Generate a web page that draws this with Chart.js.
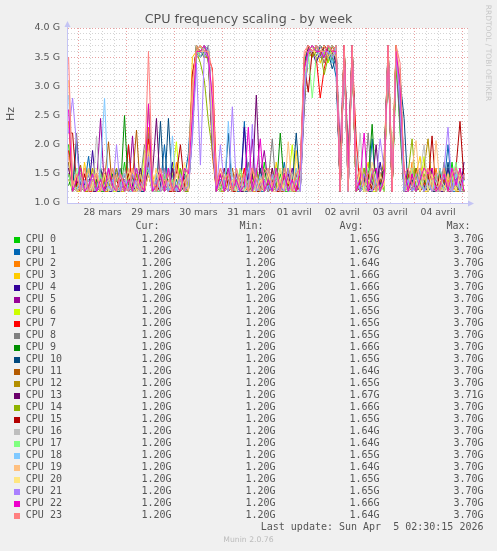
<!DOCTYPE html>
<html><head><meta charset="utf-8">
<script src="https://cdn.jsdelivr.net/npm/chart.js@4.4.1/dist/chart.umd.min.js"></script>
<style>
html,body{margin:0;padding:0;background:#f0f0f0;}
#wrap{position:relative;width:497px;height:551px;overflow:hidden;background:#f0f0f0;font-family:'DejaVu Sans',sans-serif;color:#555;}
#chartBox{position:absolute;left:0;top:0;width:497px;height:230px;}
.t{position:absolute;white-space:pre;}
.mono{font-family:'DejaVu Sans Mono',monospace;font-size:10px;line-height:12px;color:#555;}
.sq{position:absolute;width:6px;height:6px;}
</style></head>
<body>
<div id="wrap">
  <div id="chartBox"><canvas id="c" width="497" height="230"></canvas></div>
  <div class="t" id="title" style="left:0;width:497px;top:11px;text-align:center;font-size:12.7px;line-height:15px;color:#555;">CPU frequency scaling - by week</div>
  <div class="t" style="left:-9px;width:40px;top:107px;text-align:center;font-size:11px;line-height:14px;transform:rotate(-90deg);color:#555;">Hz</div>
  <div class="t" style="left:437px;width:102px;top:48px;text-align:center;font-size:7.5px;line-height:10px;transform:rotate(90deg);color:#c8c8c8;">RRDTOOL / TOBI OETIKER</div>
  <div id="legend"></div>
  <div class="t" style="left:0;width:497px;top:535px;text-align:center;font-size:7.7px;line-height:10px;color:#bbb;">Munin 2.0.76</div>
</div>
<script>
// ---- data (GHz), one point every 2 hours, first point 27 mars 19:00 ----
const startHour = -5;   // hours relative to 28 mars 00:00
const stepHours = 2;
const dayLabels = ['28 mars','29 mars','30 mars','31 mars','01 avril','02 avril','03 avril','04 avril'];
const cpuNames = ['CPU 0','CPU 1','CPU 2','CPU 3','CPU 4','CPU 5','CPU 6','CPU 7','CPU 8','CPU 9','CPU 10','CPU 11','CPU 12','CPU 13','CPU 14','CPU 15','CPU 16','CPU 17','CPU 18','CPU 19','CPU 20','CPU 21','CPU 22','CPU 23'];
const cpuColors = ['#00CC00','#0066B3','#FF8000','#FFCC00','#330099','#990099','#CCFF00','#FF0000','#808080','#008F00','#00487D','#B35A00','#B38F00','#6B006B','#8FB300','#B30000','#BEBEBE','#80FF80','#80C9FF','#FFC080','#FFE680','#AA80FF','#EE00CC','#FF8080'];
const curValues = ['1.20G','1.20G','1.20G','1.20G','1.20G','1.20G','1.20G','1.20G','1.20G','1.20G','1.20G','1.20G','1.20G','1.20G','1.20G','1.20G','1.20G','1.20G','1.20G','1.20G','1.20G','1.20G','1.20G','1.20G'];
const minValues = ['1.20G','1.20G','1.20G','1.20G','1.20G','1.20G','1.20G','1.20G','1.20G','1.20G','1.20G','1.20G','1.20G','1.20G','1.20G','1.20G','1.20G','1.20G','1.20G','1.20G','1.20G','1.20G','1.20G','1.20G'];
const avgValues = ['1.65G','1.67G','1.64G','1.66G','1.66G','1.65G','1.65G','1.65G','1.65G','1.66G','1.65G','1.64G','1.65G','1.67G','1.66G','1.65G','1.64G','1.64G','1.65G','1.64G','1.65G','1.65G','1.66G','1.64G'];
const maxValues = ['3.70G','3.70G','3.70G','3.70G','3.70G','3.70G','3.70G','3.70G','3.70G','3.70G','3.70G','3.70G','3.70G','3.71G','3.70G','3.70G','3.70G','3.70G','3.70G','3.70G','3.70G','3.70G','3.70G','3.70G'];
const lastUpdate = 'Last update: Sun Apr  5 02:30:15 2026';

const cpu0 = [
2.0,1.3,1.2,1.6,1.2,1.2,1.5,1.2,1.3,1.2,
1.2,1.4,1.2,1.2,1.7,1.2,1.3,1.2,1.5,1.2,
1.9,1.2,1.3,1.2,1.6,1.2,1.2,1.4,1.2,1.3,
1.2,2.6,3.6,3.7,3.6,3.5,2.0,1.2,1.4,1.2,
1.3,1.2,1.6,1.2,1.2,1.5,1.2,1.3,1.2,1.7,
1.2,1.3,1.2,1.5,1.2,1.2,1.4,1.2,1.6,3.2,
3.6,3.7,3.5,3.7,3.6,3.4,3.7,3.6,1.2,3.6,
1.3,3.7,1.2,1.5,1.2,1.3,1.2,1.6,1.2,1.4,
3.6,1.2,3.5,2.2,1.2,1.4,1.2,1.6,1.2,1.3,
1.2,1.5,1.2,1.2,1.4,1.2,1.7,1.2,1.3,1.2];
const cpu1 = [
1.7,1.2,1.4,1.2,1.3,1.8,1.2,1.2,1.5,1.2,
1.3,1.2,1.6,1.2,1.2,2.0,1.2,1.4,1.2,1.3,
2.2,1.4,1.2,1.3,2.0,1.2,1.5,1.2,1.2,1.4,
1.85,3.0,3.7,3.6,3.5,3.6,2.4,1.3,1.2,1.5,
1.2,1.4,1.2,1.2,2.4,1.3,1.2,1.6,1.2,1.2,
1.5,1.2,1.3,1.2,1.7,1.2,1.4,1.2,1.2,3.4,
3.7,3.6,3.6,3.5,3.7,3.6,3.5,3.15,1.3,3.7,
1.2,3.6,1.4,1.2,1.3,1.2,2.1,1.2,1.5,1.6,
3.7,1.3,3.6,2.6,1.2,1.5,1.2,1.3,1.2,1.6,
1.4,1.2,1.2,1.5,1.3,2.0,1.2,1.2,1.4,1.2];
const cpu2 = [
2.4,1.2,1.3,1.5,1.2,1.2,1.4,1.2,1.6,1.2,
1.2,1.5,1.2,1.3,1.2,1.6,1.2,1.2,1.4,1.2,
2.3,1.2,1.6,1.2,1.3,1.2,1.2,1.7,1.2,1.4,
1.3,2.8,3.6,3.5,3.7,3.4,1.8,1.2,1.3,1.6,
1.2,1.3,1.2,1.5,1.2,1.4,1.2,1.2,1.6,1.3,
1.2,1.6,1.2,1.2,1.5,1.2,1.3,1.2,1.4,3.0,
3.6,3.5,3.7,3.6,3.4,3.7,3.6,3.5,1.2,3.7,
1.4,3.7,1.2,1.3,1.6,1.2,1.2,1.5,1.3,1.8,
3.6,1.2,3.7,3.0,1.3,1.2,1.7,1.2,1.4,1.2,
1.3,1.2,1.6,1.2,1.2,1.4,1.2,1.5,1.2,1.3];
const cpu3 = [
1.6,1.4,1.2,1.2,1.7,1.2,1.3,1.5,1.2,1.4,
1.2,1.3,1.5,1.2,1.2,1.4,1.6,1.2,1.3,1.2,
1.7,1.5,1.2,1.4,1.2,1.6,1.2,1.3,1.5,1.2,
1.4,3.5,3.6,3.7,3.5,3.6,2.2,1.4,1.2,1.3,
1.5,1.2,1.4,1.2,1.6,1.2,1.3,1.2,1.5,1.2,
1.3,1.2,1.7,1.2,1.4,1.2,1.2,1.9,1.2,2.8,
3.5,3.6,3.7,3.4,3.6,3.7,3.5,3.6,1.4,3.6,
1.2,3.6,1.3,1.2,1.4,1.7,1.2,1.3,1.2,1.5,
3.7,1.4,3.6,2.8,1.2,1.3,1.2,1.5,1.8,1.2,
1.2,1.4,1.2,1.3,1.6,1.2,1.3,1.2,1.5,1.2];
const cpu4 = [
1.5,1.2,1.3,1.2,1.4,1.2,1.9,1.2,1.3,1.5,
1.2,1.2,1.4,1.6,1.2,1.3,1.2,1.5,1.2,1.2,
1.6,1.3,1.2,1.2,1.5,1.2,1.7,1.2,1.3,1.2,
1.2,2.2,3.5,3.6,3.7,3.6,2.1,1.2,1.5,1.2,
1.3,1.2,1.5,1.2,2.3,1.2,1.4,1.2,1.3,1.6,
1.2,1.4,1.2,1.3,1.2,1.6,1.2,1.5,1.2,2.6,
3.7,3.6,3.4,3.6,3.7,3.5,3.6,3.4,1.2,3.5,
1.5,3.7,1.2,1.4,1.2,1.2,1.5,1.2,1.7,1.3,
3.5,1.2,3.6,2.4,1.4,1.2,1.3,1.2,1.6,1.2,
1.5,1.2,1.3,1.2,1.2,1.6,1.2,1.4,1.2,1.7];
const cpu5 = [
1.8,1.3,1.2,1.4,1.2,1.5,1.2,1.3,2.45,1.2,
1.4,1.2,1.3,1.2,1.5,1.2,2.15,1.2,1.3,1.4,
2.0,1.2,1.4,1.6,1.2,1.3,1.2,1.2,1.5,1.2,
1.3,2.4,3.6,3.6,3.5,3.7,1.9,1.3,1.2,1.4,
1.2,1.5,1.3,1.2,1.2,1.4,2.1,1.2,1.5,1.9,
1.3,1.2,1.5,1.2,1.2,1.3,1.6,1.2,1.4,3.3,
3.6,3.7,3.6,3.5,3.5,3.6,3.7,3.6,1.9,3.6,
1.2,3.6,1.5,1.2,1.3,1.2,1.4,1.6,1.2,1.4,
3.6,1.3,3.5,2.5,1.2,1.2,1.5,1.3,1.2,1.4,
1.2,1.3,1.5,1.2,1.4,1.2,1.2,1.6,1.3,1.2];
const cpu6 = [
1.4,1.2,1.5,1.2,1.3,1.2,1.6,1.2,1.2,1.5,
1.3,1.2,1.2,1.5,1.2,1.4,1.2,1.3,1.2,1.9,
1.8,1.2,1.3,1.2,1.4,1.2,1.5,2.05,1.2,1.3,
1.2,2.9,3.7,3.5,3.6,3.6,2.5,1.2,1.4,1.2,
1.4,1.2,1.2,1.6,1.3,1.2,1.5,1.2,1.2,1.4,
1.2,1.5,1.2,1.4,1.2,1.3,2.0,1.2,1.5,3.1,
3.6,3.5,3.6,3.7,3.6,3.4,3.6,3.7,1.3,3.7,
1.3,3.7,1.2,1.6,1.2,1.4,1.2,1.2,1.5,1.3,
3.6,1.2,3.7,2.9,1.5,1.2,1.4,1.2,1.3,1.8,
1.2,1.5,1.2,1.3,1.2,1.4,1.6,1.2,1.2,1.5];
const cpu7 = [
1.9,1.2,1.3,1.2,1.5,1.2,1.2,1.4,1.3,1.2,
1.5,1.3,1.2,1.4,1.2,2.0,1.2,1.5,1.2,1.3,
2.1,1.3,1.2,1.5,1.2,1.4,1.2,1.3,1.2,1.6,
1.2,3.2,3.6,3.7,3.6,3.5,3.3,1.5,1.2,1.3,
1.2,1.3,1.4,1.2,1.6,1.2,1.2,1.5,1.3,1.2,
1.6,1.2,1.3,1.2,1.5,1.4,1.2,1.3,1.2,3.5,
3.7,3.6,3.5,2.8,3.3,3.6,3.7,3.5,1.2,3.6,
1.4,3.6,2.1,1.2,1.3,1.2,1.5,1.2,1.4,1.2,
3.7,1.2,3.6,2.7,1.3,1.5,1.2,1.4,1.2,1.3,
1.6,1.2,1.2,1.4,1.3,1.2,1.5,1.2,1.3,1.4];
const cpu8 = [
1.6,1.3,2.2,1.2,1.4,1.2,1.3,1.5,1.2,1.3,
1.2,1.4,1.2,1.6,1.2,1.3,1.2,1.2,1.4,2.0,
1.7,1.2,1.5,1.2,1.3,1.2,1.6,1.2,1.4,1.2,
1.5,2.5,3.5,3.6,3.7,3.4,2.3,1.2,1.3,1.5,
1.2,1.4,1.2,1.3,1.2,1.7,1.2,1.4,1.2,1.3,
1.4,2.1,1.2,1.3,1.6,1.2,1.2,1.4,1.3,2.9,
3.5,3.6,3.7,3.6,3.4,3.6,3.5,3.7,1.3,3.5,
1.2,3.5,1.3,1.4,1.2,2.2,1.3,1.2,1.6,1.5,
3.6,1.4,3.5,2.3,1.2,1.3,1.6,1.2,1.5,1.2,
1.3,1.2,1.4,1.2,1.7,1.2,1.3,1.5,1.2,1.2];
const cpu9 = [
1.3,1.5,1.2,1.3,1.2,1.6,1.2,1.4,1.2,1.2,
1.4,1.2,1.3,1.2,2.5,1.2,1.5,1.2,1.3,1.4,
1.5,1.2,1.2,1.4,1.2,1.5,1.3,1.2,1.6,1.2,
1.2,2.7,3.7,3.6,3.7,3.5,2.0,1.3,1.2,1.4,
1.6,1.2,1.3,1.2,1.4,1.2,1.5,1.2,1.2,1.6,
1.2,1.3,1.2,2.2,1.3,1.2,1.5,1.2,1.4,3.4,
3.6,3.7,3.6,3.6,3.5,3.7,3.4,3.6,1.2,3.7,
1.75,3.6,1.2,1.3,1.2,1.4,2.35,1.2,1.3,1.7,
3.6,1.2,3.25,3.3,1.4,1.2,1.3,1.5,1.2,1.4,
1.2,1.3,1.2,1.6,1.2,1.3,1.2,1.4,1.5,1.2];
const cpu10 = [
1.5,1.2,2.05,1.3,1.2,1.4,1.2,1.2,1.6,1.3,
1.2,1.5,1.2,1.2,1.4,1.2,1.3,1.6,1.2,1.2,
1.6,1.3,1.2,2.4,1.2,2.45,1.2,1.4,1.3,1.2,
1.6,2.3,3.6,3.5,3.6,3.7,2.6,1.2,1.4,1.2,
2.2,1.2,1.3,1.5,1.2,1.2,1.4,1.2,1.6,1.2,
1.3,1.2,1.4,1.2,1.5,1.2,1.3,2.2,1.2,3.1,
3.6,3.6,3.5,3.7,3.6,3.6,3.3,3.5,1.2,3.6,
1.3,3.7,1.5,1.2,1.4,1.2,1.2,1.5,1.3,1.6,
3.7,1.3,3.6,3.1,2.45,1.2,1.4,1.2,1.3,1.5,
1.4,1.2,1.2,1.5,1.2,1.7,1.2,1.3,1.2,1.4];
const cpu11 = [
1.7,1.2,1.4,1.65,1.2,1.3,1.2,1.5,1.2,1.4,
2.05,1.2,1.3,1.2,1.5,1.2,1.4,2.25,1.2,1.3,
1.9,1.2,1.5,1.2,1.3,1.6,1.2,1.2,1.4,1.2,
1.3,2.6,3.6,3.7,3.5,3.5,2.2,1.2,1.5,1.3,
1.2,1.6,1.2,1.4,1.2,1.3,1.2,1.5,1.2,1.4,
1.2,1.3,1.5,1.2,1.2,1.4,1.2,1.6,1.3,3.0,
3.7,3.5,3.6,3.6,3.7,3.5,3.6,3.6,1.5,3.6,
1.2,3.7,1.4,1.2,1.5,1.3,1.2,1.4,1.2,1.3,
3.6,1.5,3.7,2.6,1.2,1.3,1.2,1.6,1.4,1.2,
1.5,1.2,1.3,1.2,1.4,1.2,1.6,1.2,1.2,1.5];
const cpu12 = [
1.4,1.3,1.2,1.5,1.2,1.2,1.6,1.3,1.2,1.4,
1.2,1.4,1.6,1.2,1.3,1.2,1.2,1.5,1.2,1.6,
1.8,1.2,1.3,1.2,1.6,1.2,1.4,1.2,1.5,1.3,
1.2,2.8,3.6,3.6,3.7,3.6,2.1,1.4,1.2,1.2,
1.5,1.2,1.2,1.4,1.3,1.2,1.6,1.2,1.4,1.2,
1.3,1.5,1.2,1.2,1.4,1.6,1.2,1.2,1.5,3.3,
3.6,3.6,3.7,3.5,3.6,3.7,3.5,3.6,1.3,3.7,
1.5,3.6,1.2,1.5,1.2,1.3,1.6,1.2,1.4,1.2,
3.7,1.2,3.5,2.9,1.3,1.4,1.2,1.5,1.2,1.6,
2.1,1.3,1.2,1.4,1.2,1.5,1.2,1.3,1.6,1.2];
const cpu13 = [
1.6,1.2,1.4,1.2,1.3,1.5,1.2,1.2,1.4,1.6,
1.3,1.2,1.5,1.2,1.4,1.2,1.3,1.2,1.6,1.2,
1.7,1.5,2.45,1.2,1.3,1.2,1.6,1.2,1.2,1.5,
1.4,2.4,3.7,3.6,3.6,3.5,2.4,1.2,1.3,1.6,
1.2,1.3,1.5,1.2,1.2,1.6,1.3,2.85,1.2,1.4,
1.2,1.6,1.2,1.3,1.2,1.5,1.2,1.4,1.2,3.2,
3.7,3.6,3.6,3.7,3.5,3.6,3.6,3.4,1.2,3.6,
1.6,3.7,1.3,1.2,1.5,1.2,1.3,2.0,1.2,1.5,
3.5,1.2,3.6,2.5,1.2,1.6,1.3,1.2,1.4,1.3,
1.2,1.6,1.2,1.2,1.5,1.3,1.2,1.4,1.2,1.6];
const cpu14 = [
1.5,1.2,1.3,1.4,1.2,1.6,1.2,1.3,1.2,1.5,
1.2,1.6,1.2,1.3,1.2,1.5,1.2,1.4,1.5,1.2,
2.7,1.2,1.4,1.2,1.5,1.2,1.3,1.2,1.6,1.2,
1.2,2.5,3.6,3.4,3.1,2.4,1.9,1.3,1.2,1.5,
1.3,1.2,1.4,1.2,1.5,1.2,1.2,1.6,1.3,1.2,
1.4,1.2,1.3,1.6,1.2,1.3,1.2,1.5,1.4,2.7,
3.6,3.5,3.7,3.6,3.2,3.5,3.7,3.6,1.4,3.5,
1.3,3.6,1.2,1.3,1.6,1.2,1.5,1.2,1.3,1.4,
3.6,1.3,3.3,2.8,1.2,1.5,2.1,1.2,1.3,1.5,
1.2,1.4,1.3,1.2,1.6,1.2,1.4,1.2,1.3,1.2];
const cpu15 = [
2.2,2.2,1.3,1.2,1.5,1.2,1.4,1.2,1.3,1.2,
1.6,1.2,1.4,1.2,1.3,1.5,1.2,1.2,1.4,1.2,
1.5,1.2,1.3,1.2,1.4,1.2,1.2,1.5,2.0,1.3,
1.2,3.2,3.6,3.7,3.6,3.6,2.0,1.2,1.4,1.2,
1.4,1.2,1.2,1.5,1.3,1.2,1.6,1.2,1.2,1.5,
1.2,1.4,1.2,1.2,1.5,1.3,1.4,1.2,1.6,3.4,
2.9,3.6,3.6,3.5,3.7,3.6,3.6,3.7,1.2,3.7,
1.4,3.6,1.3,1.2,1.4,1.5,1.2,1.3,1.2,1.6,
3.6,1.2,3.7,2.7,1.3,1.2,1.5,1.2,1.6,1.2,
1.3,2.15,1.2,1.5,1.2,1.3,1.2,1.6,2.4,1.4];
const cpu16 = [
1.4,1.3,1.2,1.5,1.2,1.4,1.2,2.15,1.2,1.3,
1.5,1.2,1.3,1.2,1.6,1.2,1.4,1.2,1.2,1.5,
1.9,1.2,1.2,1.4,1.2,1.6,1.3,1.2,1.5,1.2,
1.3,2.6,3.5,3.6,3.6,3.7,2.5,1.4,1.2,1.3,
1.2,1.5,1.2,1.3,1.4,1.2,1.2,1.5,1.2,1.3,
1.6,1.2,1.4,1.2,1.3,1.2,1.5,1.2,1.2,3.0,
3.5,3.6,3.6,3.7,3.5,3.6,3.7,3.6,1.3,3.6,
1.2,3.5,1.4,2.2,1.2,1.3,1.2,1.5,1.2,1.4,
3.6,1.2,3.6,3.2,1.4,1.2,1.3,1.2,1.5,2.0,
1.2,1.4,1.2,1.2,1.5,1.3,1.2,1.6,1.2,1.3];
const cpu17 = [
1.5,1.2,1.6,1.2,1.3,1.2,1.4,1.2,1.5,1.2,
1.3,1.2,1.4,1.5,1.2,1.3,1.2,1.6,1.2,1.4,
1.6,1.3,1.2,1.2,1.5,1.2,1.4,1.2,1.3,1.6,
1.2,2.4,3.6,3.7,3.5,3.6,2.3,1.3,1.2,1.4,
1.5,1.2,1.3,1.6,1.2,1.4,1.2,1.3,1.2,1.5,
1.2,1.4,1.6,1.2,1.3,1.2,1.2,1.4,1.5,3.1,
3.6,2.8,3.5,3.6,3.6,3.7,3.5,3.6,1.2,3.6,
1.5,3.7,1.2,1.3,1.2,1.6,1.4,1.2,1.3,1.2,
3.7,1.4,3.5,3.0,1.2,1.3,1.6,1.2,1.4,1.2,
1.4,1.2,1.5,1.2,1.3,1.2,1.4,1.7,1.2,1.3];
const cpu18 = [
2.85,1.3,1.2,1.4,1.2,1.5,1.3,1.2,1.6,2.8,
1.2,1.4,1.2,1.3,1.5,1.2,1.2,1.4,1.2,1.6,
1.6,1.2,1.5,1.2,1.3,1.2,2.15,1.2,1.4,1.2,
1.5,2.3,3.6,3.5,3.7,3.6,2.7,1.2,1.4,1.2,
2.4,1.3,1.2,1.4,1.2,1.6,1.3,1.2,1.5,1.2,
1.3,1.2,1.5,1.2,1.4,1.2,1.3,1.6,1.2,2.9,
3.6,3.7,3.6,3.5,3.6,3.6,3.4,3.7,1.3,3.6,
1.2,3.6,1.5,1.2,1.3,1.2,1.6,1.3,1.2,1.5,
3.6,1.3,3.6,2.6,1.2,1.4,1.2,1.3,1.6,1.2,
1.3,1.2,1.4,1.6,1.2,1.3,1.2,1.5,1.2,1.4];
const cpu19 = [
3.1,1.4,1.2,1.3,1.2,1.6,1.2,1.5,1.2,1.3,
1.4,1.2,1.5,1.2,1.3,1.6,1.2,1.2,1.5,1.2,
2.0,1.3,1.2,1.6,1.2,1.4,1.2,1.5,1.2,1.4,
1.2,2.7,3.7,3.6,3.6,3.5,2.6,1.3,1.6,1.2,
1.3,1.2,1.6,1.2,1.5,1.2,1.4,1.2,1.3,1.6,
1.5,1.2,1.2,1.4,1.2,2.05,1.2,1.3,1.6,3.5,
3.7,3.6,3.6,3.6,3.7,3.5,3.6,3.6,1.4,3.7,
1.3,3.7,1.2,1.6,1.2,1.4,1.3,1.2,1.5,1.3,
3.7,1.5,3.7,3.2,1.3,1.2,1.6,2.07,1.2,1.4,
1.6,1.2,2.07,1.3,1.2,1.5,1.2,1.3,1.4,1.2];
const cpu20 = [
1.8,1.2,1.5,1.2,1.4,1.2,1.3,1.6,1.2,1.5,
1.2,1.3,1.2,1.5,1.2,1.4,1.6,1.2,1.3,1.2,
1.5,1.2,1.6,1.2,1.4,1.3,1.2,1.5,1.2,1.7,
1.4,3.0,3.6,3.7,3.6,3.6,2.2,1.2,1.3,1.5,
1.2,1.4,1.2,1.5,1.2,1.3,1.6,1.2,1.4,1.2,
1.5,1.3,1.2,1.6,1.2,1.4,1.2,1.8,1.2,3.2,
3.6,3.7,3.5,3.6,3.6,3.7,3.6,3.5,1.2,3.6,
1.4,3.6,1.3,1.5,1.2,1.2,1.7,1.4,1.2,1.3,
3.6,1.2,3.6,2.9,1.5,1.2,1.3,1.4,1.2,1.6,
1.2,1.5,1.2,1.4,1.3,1.2,1.6,1.2,1.5,1.3];
const cpu21 = [
2.2,2.8,2.0,1.2,1.4,1.2,1.5,1.2,1.3,1.2,
1.3,1.2,2.0,1.2,1.4,1.2,1.5,1.3,1.2,1.4,
1.8,1.2,1.4,1.2,1.6,1.2,1.3,1.2,1.5,1.2,
1.3,2.1,3.4,1.65,3.6,3.5,2.0,1.2,2.0,1.3,
1.2,2.65,1.3,1.2,1.5,1.2,2.35,1.2,1.3,1.4,
1.2,1.5,1.2,1.3,1.2,1.6,1.2,1.4,1.2,2.8,
3.6,3.6,3.7,3.5,3.6,3.6,3.5,3.6,1.3,3.5,
1.2,3.6,1.4,1.2,1.5,1.3,1.2,1.4,2.1,1.6,
3.6,1.3,3.5,2.8,1.2,1.4,1.2,1.5,1.3,1.2,
1.4,1.2,1.3,1.2,1.6,2.3,1.2,1.4,1.2,1.5];
const cpu22 = [
2.6,1.2,1.4,1.6,1.2,1.3,1.5,1.2,1.4,1.2,
1.6,1.3,1.2,1.5,1.2,1.4,1.2,1.6,1.3,1.2,
2.7,1.2,1.3,1.5,1.2,1.6,1.2,1.3,1.2,1.6,
1.5,2.5,3.6,3.6,3.7,3.5,2.8,1.2,1.5,1.2,
1.6,1.2,1.4,1.2,1.3,2.3,1.2,1.5,2.1,1.2,
1.4,1.2,1.6,1.2,1.5,1.2,1.4,1.2,1.6,3.3,
3.6,3.7,3.6,3.6,3.5,3.7,3.6,3.6,1.2,3.7,
1.6,3.7,1.2,1.4,2.2,1.2,1.5,1.6,1.2,1.4,
3.7,1.2,3.6,3.0,1.6,1.2,1.5,1.2,1.4,1.6,
1.5,1.6,1.2,1.3,1.5,1.2,1.6,1.3,1.6,1.2];
const cpu23 = [
3.5,1.3,1.5,1.2,1.6,1.2,1.4,1.5,1.2,1.6,
1.4,1.6,1.2,1.5,1.3,1.2,1.6,1.4,1.2,1.5,
3.6,1.4,1.2,1.6,1.3,1.5,1.2,1.6,1.4,1.2,
1.6,3.1,3.6,3.7,3.6,3.6,3.25,1.3,1.6,1.4,
1.5,1.2,1.6,1.3,1.5,1.2,1.6,1.4,1.2,1.5,
1.6,1.3,1.5,1.2,1.6,1.4,1.2,1.5,1.6,3.6,
3.7,3.6,3.7,3.6,3.6,3.7,3.6,3.7,1.2,3.7,
1.2,3.7,1.4,1.6,1.3,1.5,1.6,1.2,1.5,1.6,
3.7,1.2,3.7,3.4,1.5,1.6,1.3,1.5,1.6,1.4,
1.6,1.4,1.5,1.2,1.6,1.3,1.5,1.6,1.4,1.5];

const cpuSeries = [cpu0,cpu1,cpu2,cpu3,cpu4,cpu5,cpu6,cpu7,cpu8,cpu9,cpu10,cpu11,cpu12,cpu13,cpu14,cpu15,cpu16,cpu17,cpu18,cpu19,cpu20,cpu21,cpu22,cpu23];

// ---- axis layout ----
const xMin = -5.8, xMax = 195;
const xTickHours = Array.from({length: 33}, (_, k) => k * 6);
const yTickValues = Array.from({length: 31}, (_, k) => Math.round((1 + k / 10) * 10) / 10);

// ---- legend (HTML text) ----
const leg = document.getElementById('legend');
function addText(txt, left, top, cls, extra) {
  const d = document.createElement('div');
  d.className = 't ' + cls;
  d.style.left = left + 'px';
  d.style.top = top + 'px';
  if (extra) Object.assign(d.style, extra);
  d.textContent = txt;
  leg.appendChild(d);
}
addText('Cur:', 135.5, 220, 'mono');
addText('Min:', 239.5, 220, 'mono');
addText('Avg:', 339.5, 220, 'mono');
addText('Max:', 446.5, 220, 'mono');
cpuNames.forEach((n, i) => {
  const top = 233 + 12 * i;
  const sq = document.createElement('div');
  sq.className = 'sq';
  sq.style.left = '14px'; sq.style.top = (236.7 + 12 * i) + 'px';
  sq.style.background = cpuColors[i];
  leg.appendChild(sq);
  addText(n, 25.8, top, 'mono');
  addText(curValues[i], 111.5, top, 'mono', {width: '60px', textAlign: 'right'});
  addText(minValues[i], 215.5, top, 'mono', {width: '60px', textAlign: 'right'});
  addText(avgValues[i], 319.5, top, 'mono', {width: '60px', textAlign: 'right'});
  addText(maxValues[i], 423.5, top, 'mono', {width: '60px', textAlign: 'right'});
});
addText(lastUpdate, 183.5, 521, 'mono', {width: '300px', textAlign: 'right'});

// ---- chart ----
Chart.defaults.font.family = "'DejaVu Sans', sans-serif";
const decor = {
  id: 'decor',
  beforeDraw(chart) {
    const {ctx, chartArea: a} = chart;
    ctx.save();
    ctx.fillStyle = '#ffffff';
    ctx.fillRect(a.left, a.top, a.right - a.left, a.bottom - a.top);
    ctx.restore();
  },
  afterDraw(chart) {
    const {ctx, chartArea: a} = chart;
    ctx.save();
    ctx.strokeStyle = '#c4c4f4';
    ctx.fillStyle = '#c4c4f4';
    ctx.lineWidth = 1;
    ctx.beginPath();
    ctx.moveTo(a.left + 0.5, a.top); ctx.lineTo(a.left + 0.5, a.top - 3);
    ctx.moveTo(a.right, a.bottom + 0.5); ctx.lineTo(a.right + 2, a.bottom + 0.5);
    ctx.stroke();
    ctx.beginPath();
    ctx.moveTo(a.left + 0.5, a.top - 7); ctx.lineTo(a.left - 2.5, a.top - 1); ctx.lineTo(a.left + 3.5, a.top - 1); ctx.closePath();
    ctx.fill();
    ctx.beginPath();
    ctx.moveTo(a.right + 6, a.bottom + 0.5); ctx.lineTo(a.right, a.bottom - 2.5); ctx.lineTo(a.right, a.bottom + 3.5); ctx.closePath();
    ctx.fill();
    ctx.restore();
  }
};

new Chart(document.getElementById('c'), {
  type: 'line',
  data: {
    datasets: cpuSeries.map((arr, i) => ({
      label: cpuNames[i],
      data: arr.map((v, k) => ({x: startHour + k * stepHours, y: v})),
      borderColor: cpuColors[i],
      backgroundColor: cpuColors[i],
      borderWidth: 1,
      pointRadius: 0,
      tension: 0,
      fill: false,
      order: cpuSeries.length - 1 - i
    }))
  },
  options: {
    responsive: false,
    animation: false,
    events: [],
    layout: {padding: {top: 28, right: 29, left: 0, bottom: 0}},
    plugins: {legend: {display: false}, tooltip: {enabled: false}, title: {display: false}},
    scales: {
      x: {
        type: 'linear', min: xMin, max: xMax,
        afterBuildTicks: (s) => { s.ticks = xTickHours.map(v => ({value: v})); },
        afterFit: (s) => { s.height = 27; },
        ticks: {
          autoSkip: false, maxRotation: 0, padding: 4, color: '#555',
          font: {size: 9.3},
          callback: (v) => { const h = Math.round(v); return (h % 24 === 12) ? (dayLabels[(h - 12) / 24] || '') : ''; }
        },
        grid: {
          drawTicks: false, lineWidth: 1,
          color: (c) => (c.tick && Math.round(c.tick.value) % 24 === 0) ? '#e8a0a0' : '#d4d4d4'
        },
        border: {display: true, color: '#c4c4f4', width: 1, dash: [1, 2]}
      },
      y: {
        type: 'linear', min: 1, max: 4,
        afterBuildTicks: (s) => { s.ticks = yTickValues.map(v => ({value: v})); },
        afterFit: (s) => { s.width = 67; },
        ticks: {
          autoSkip: false, padding: 7, color: '#555',
          font: {size: 9.5},
          callback: (v) => { const t = Math.round(v * 10); return (t % 5 === 0) ? (t / 10).toFixed(1) + ' G' : ''; }
        },
        grid: {
          drawTicks: false, lineWidth: 1,
          color: (c) => (c.tick && Math.round(c.tick.value * 10) % 5 === 0) ? '#e8a0a0' : '#d4d4d4'
        },
        border: {display: true, color: '#c4c4f4', width: 1, dash: [1, 2]}
      }
    }
  },
  plugins: [decor]
});
</script>
</body></html>
